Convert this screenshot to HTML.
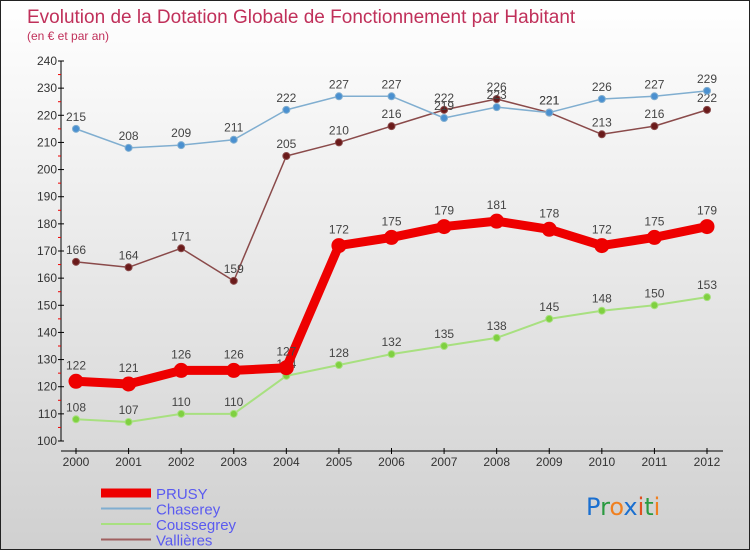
<!DOCTYPE html>
<html><head><meta charset="utf-8"><style>
body{margin:0;width:750px;height:550px;overflow:hidden;font-family:"Liberation Sans",sans-serif}
#wrap{position:relative;width:748px;height:548px;border:1px solid #222;background:linear-gradient(#ffffff,#d0d0d0)}
</style></head><body>
<div id="wrap">
<svg id="svg" width="748" height="548"></svg>
</div>
<script>
const years=[2000,2001,2002,2003,2004,2005,2006,2007,2008,2009,2010,2011,2012];
const prusy=[122,121,126,126,127,172,175,179,181,178,172,175,179];
const chaserey=[215,208,209,211,222,227,227,219,223,221,226,227,229];
const coussegrey=[108,107,110,110,124,128,132,135,138,145,148,150,153];
const vallieres=[166,164,171,159,205,210,216,222,226,221,213,216,222];
const yTicks=[100,110,120,130,140,150,160,170,180,190,200,210,220,230,240];
const NS="http://www.w3.org/2000/svg";
const svg=document.getElementById('svg');
const X=i=>75+i*(631/12);
const Y=v=>440-(v-100)*(380/140);
function el(t,a,p){const e=document.createElementNS(NS,t);for(const k in a)e.setAttribute(k,a[k]);(p||svg).appendChild(e);return e;}
function txt(x,y,s,a){const e=el('text',Object.assign({x:x,y:y},a));e.textContent=s;return e;}
let t=txt(26,22,'Evolution de la Dotation Globale de Fonctionnement par Habitant',{fill:'#c0305a','font-size':19});

t=txt(26,39,'(en € et par an)',{fill:'#c0305a','font-size':12});

// y axis
let ax=el('line',{x1:60,y1:Y(240),x2:60,y2:Y(100),stroke:'#000'});

yTicks.forEach(v=>{el('line',{x1:57,x2:63,y1:Y(v),y2:Y(v),stroke:'#000'});
 if(v<240)el('line',{x1:57,x2:60,y1:Y(v+5),y2:Y(v+5),stroke:'#e00'});
 let l=txt(56,Y(v)+4,v,{'text-anchor':'end','font-size':12,fill:'#333'});
 });
ax=el('line',{x1:60,y1:450,x2:722,y2:450,stroke:'#000'});

years.forEach((y,i)=>{el('line',{x1:X(i),x2:X(i),y1:447,y2:453,stroke:'#000'});
 let l=txt(X(i),465,y,{'text-anchor':'middle','font-size':12,fill:'#333'});
 });
function series(data,color,dot,w,r,name){
 const g=el('g',{});
 el('polyline',{points:data.map((v,i)=>X(i)+','+Y(v)).join(' '),fill:'none',stroke:color,'stroke-width':w,'stroke-linejoin':'round'},g);
 data.forEach((v,i)=>{const c=el('circle',{cx:X(i),cy:Y(v),r:r,fill:dot,stroke:color,'stroke-width':1},g);
  
  const l=txt(X(i),Y(v)-8-(r>5?4:0),v,{'text-anchor':'middle','font-size':12,fill:'#444'},g);
  });
}
series(coussegrey,'#a8e080','#7fd040',2,3.5,'coussegrey');
series(vallieres,'#8a4a4a','#6a1a1a',1.5,3.5,'vallieres');
series(chaserey,'#80aed0','#4a90d0',1.5,3.5,'chaserey');
series(prusy,'#ee0000','#ee0000',9,7,'prusy');
// legend
const leg=[['PRUSY','#ee0000',9],['Chaserey','#80aed0',2],['Coussegrey','#a8e080',2],['Vallières','#a06060',2]];
leg.forEach((d,i)=>{const g=el('g',{});
 const y=492+i*15.5;el('line',{x1:100,x2:150,y1:y,y2:y,stroke:d[1],'stroke-width':d[2]},g);
 txt(155,y+6,d[0],{'font-size':15,fill:'#5a5af0'},g);});
const lg=el('text',{x:585,y:514,'font-size':24,'font-family':'"DejaVu Sans",sans-serif'});

[['P','#1a6fd0'],['r','#2a9a40'],['o','#f08020'],['x','#1a6fd0'],['i','#e05020'],['t','#2a9a40'],['i','#f08020']].forEach(c=>{const s=el('tspan',{fill:c[1]},lg);s.textContent=c[0];});
</script>
</body></html>
